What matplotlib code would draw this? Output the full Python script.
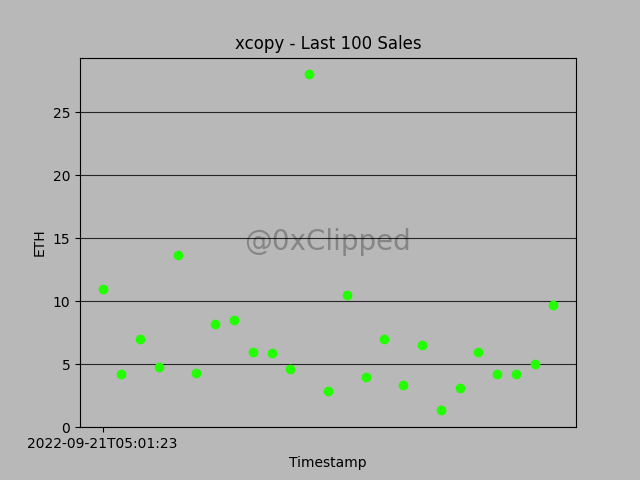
import matplotlib
matplotlib.use('Agg')
import matplotlib.pyplot as plt

timestamps = ['2022-09-21T05:01:23', '2022-09-21T03:44:10', '2022-09-20T22:17:52',
              '2022-09-20T19:05:31', '2022-09-20T14:38:09', '2022-09-20T11:12:47',
              '2022-09-20T08:56:02', '2022-09-20T02:21:35', '2022-09-19T23:48:14',
              '2022-09-19T20:03:58', '2022-09-19T16:27:41', '2022-09-19T12:09:26',
              '2022-09-19T07:55:03', '2022-09-19T04:31:49', '2022-09-18T23:14:20',
              '2022-09-18T18:42:37', '2022-09-18T15:06:11', '2022-09-18T09:58:44',
              '2022-09-18T05:23:16', '2022-09-17T22:47:59', '2022-09-17T17:35:28',
              '2022-09-17T13:02:05', '2022-09-17T08:19:50', '2022-09-17T03:41:33',
              '2022-09-16T21:10:07']
prices = [11.0, 4.2, 7.0, 4.8, 13.7, 4.3, 8.2, 8.5, 6.0, 5.9, 4.6, 28.0, 2.85,
          10.5, 4.0, 7.0, 3.35, 6.5, 1.35, 3.1, 6.0, 4.2, 4.2, 5.0, 9.7]

bg = '#b8b8b8'
fig, ax = plt.subplots(figsize=(6.4, 4.8), dpi=100)
fig.patch.set_facecolor(bg)
ax.set_facecolor(bg)

x = list(range(len(prices)))
ax.scatter(x, prices, color='#22ff00', s=36, zorder=3)
ax.set_ylim(bottom=0)
ax.yaxis.grid(True, color='black', linewidth=0.8, alpha=0.8)
ax.set_axisbelow(True)
ax.set_xticks([0])
ax.set_xticklabels([timestamps[0]])

ax.set_title('xcopy - Last 100 Sales')
ax.set_xlabel('Timestamp')
ax.set_ylabel('ETH')
# watermark sits under the grid lines
ax.text(0.5, 0.5, '@0xClipped', transform=ax.transAxes, fontsize=20,
        color='gray', alpha=0.9, ha='center', va='center', zorder=0.2)

fig.savefig('out.png', facecolor=bg)
